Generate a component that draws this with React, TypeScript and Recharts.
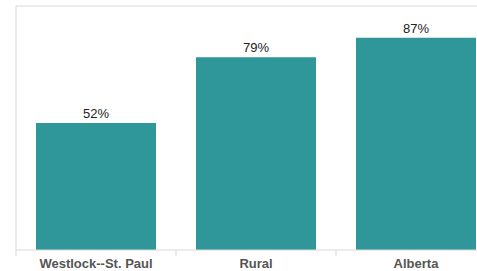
import React from 'react';
import { BarChart, Bar, XAxis, YAxis, ReferenceLine, LabelList } from 'recharts';

const categories = ['Westlock--St. Paul', 'Rural', 'Alberta'];
const values = [52, 79, 87];

const data = categories.map((name, i) => ({ name, value: values[i] }));

const FONT = '"Liberation Sans", Arial, sans-serif';

const CategoryTick = (props: any) => {
  const { x, y, payload } = props;
  const half = 80;
  return (
    <g>
      <line x1={x - half} x2={x - half} y1={y - 8} y2={y - 2} stroke="#d9d9d9" strokeWidth={1} />
      <text
        x={x}
        y={y + 10}
        textAnchor="middle"
        fontFamily={FONT}
        fontSize={13}
        fontWeight="bold"
        fill="#555555"
      >
        {payload.value}
      </text>
    </g>
  );
};

export default function App() {
  return (
    <div style={{ position: 'absolute', left: 0, top: 0, width: 477, height: 271, overflow: 'hidden', background: '#fff' }}>
      <BarChart
        width={520}
        height={271}
        data={data}
        margin={{ top: 6, right: 24, bottom: 0, left: 15 }}
        barSize={120}
      >
        <YAxis
          domain={[0, 100]}
          width={1}
          tick={false}
          tickLine={false}
          axisLine={{ stroke: '#d9d9d9' }}
        />
        <XAxis
          dataKey="name"
          height={21}
          axisLine={{ stroke: '#d9d9d9' }}
          tickLine={false}
          tick={<CategoryTick />}
          interval={0}
        />
        <ReferenceLine y={100} stroke="#d9d9d9" />
        <Bar dataKey="value" fill="#2f9699" isAnimationActive={false}>
          <LabelList
            dataKey="value"
            position="top"
            offset={5}
            formatter={(v: any) => `${v}%`}
            style={{ fontFamily: FONT, fontSize: 13, fill: '#222' }}
          />
        </Bar>
      </BarChart>
    </div>
  );
}
